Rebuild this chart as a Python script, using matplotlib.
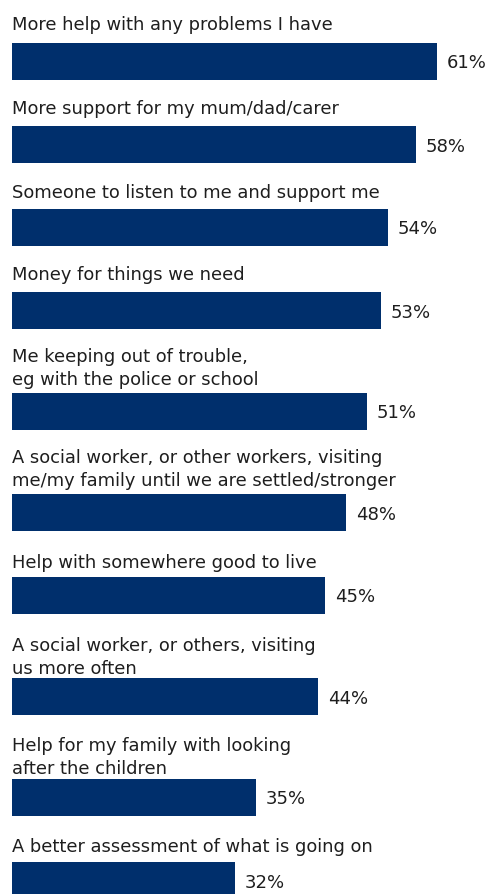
import matplotlib
matplotlib.use("Agg")
import matplotlib.pyplot as plt

# What would help children and families
labels = [
    "More help with any problems I have",
    "More support for my mum/dad/carer",
    "Someone to listen to me and support me",
    "Money for things we need",
    "Me keeping out of trouble,\neg with the police or school",
    "A social worker, or other workers, visiting\nme/my family until we are settled/stronger",
    "Help with somewhere good to live",
    "A social worker, or others, visiting\nus more often",
    "Help for my family with looking\nafter the children",
    "A better assessment of what is going on",
]
values = [61, 58, 54, 53, 51, 48, 45, 44, 35, 32]

# space (px) between the last label line's baseline and the bar below it
label_gap = [13, 12, 11, 12, 8, 8, 9, 4, 5, 10]

BAR_COLOR = "#002f6c"
TEXT_COLOR = "#1e1e1e"
FONT = "DejaVu Sans"

W, H = 491, 894
fig = plt.figure(figsize=(W / 100, H / 100), dpi=100)
ax = fig.add_axes([0, 0, 1, 1])

# x in percent, y in pixels from the top
px_per_pct = 6.96
left_px = 12
ax.set_xlim(-left_px / px_per_pct, (W - left_px) / px_per_pct)
ax.set_ylim(H, 0)
ax.axis("off")

bar_h = 37
line_h = 23
top = 43
for i, (lab, v) in enumerate(zip(labels, values)):
    nlines = lab.count("\n") + 1
    if i > 0:
        top += 83 + 18 * (nlines - 1)
    ax.barh(top + bar_h / 2, v, height=bar_h, left=0, color=BAR_COLOR)
    for k, line in enumerate(lab.split("\n")):
        base = top - label_gap[i] - line_h * (nlines - 1 - k)
        ax.text(0, base, line, ha="left", va="baseline", fontsize=12.9,
                family=FONT, color=TEXT_COLOR)
    ax.text(v + 10 / px_per_pct, top + bar_h / 2 + 2, f"{v}%", ha="left",
            va="center", fontsize=13, family=FONT, color=TEXT_COLOR)

fig.savefig("out.png", dpi=100, facecolor="white")
